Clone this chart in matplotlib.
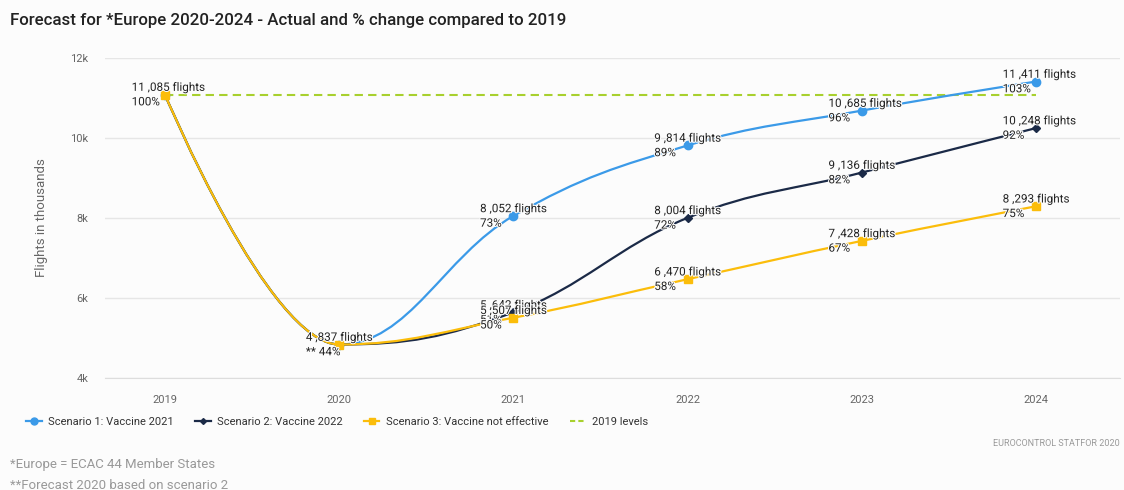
import matplotlib
matplotlib.use("Agg")
import matplotlib.pyplot as plt
import numpy as np
from matplotlib.path import Path
from matplotlib.patches import PathPatch
from matplotlib.lines import Line2D
import matplotlib.patheffects as pe

plt.rcParams['font.family'] = ['Roboto', 'DejaVu Sans']

years = [2019, 2020, 2021, 2022, 2023, 2024]
scenario1 = [11085, 4837, 8052, 9814, 10685, 11411]
scenario2 = [11085, 4837, 5642, 8004, 9136, 10248]
scenario3 = [11085, 4837, 5507, 6470, 7428, 8293]
pct1 = [100, 44, 73, 89, 96, 103]
pct2 = [100, 44, 51, 72, 82, 92]
pct3 = [100, 44, 50, 58, 67, 75]
level_2019 = 11085

names = ['Scenario 1: Vaccine 2021', 'Scenario 2: Vaccine 2022',
         'Scenario 3: Vaccine not effective']
colors = ['#3b9ae8', '#1b2a47', '#fbbd0b']
markers = ['o', 'D', 's']
msizes = [6, 4, 6]
green = '#a8d02e'


def spline_path(xs, ys, smoothing=1.5):
    # highcharts-like spline: cubic bezier through every point
    n = len(xs)
    verts = [(xs[0], ys[0])]
    codes = [Path.MOVETO]
    left = [(xs[0], ys[0])] * n
    right = [(xs[0], ys[0])] * n
    for i in range(n):
        x, y = xs[i], ys[i]
        if i == 0 or i == n - 1:
            left[i] = (x, y)
            right[i] = (x, y)
            continue
        lx, ly = xs[i - 1], ys[i - 1]
        nx, ny = xs[i + 1], ys[i + 1]
        lcx = (smoothing * x + lx) / (smoothing + 1)
        lcy = (smoothing * y + ly) / (smoothing + 1)
        rcx = (smoothing * x + nx) / (smoothing + 1)
        rcy = (smoothing * y + ny) / (smoothing + 1)
        if rcx != lcx:
            corr = (rcy - lcy) * (rcx - x) / (rcx - lcx) + y - rcy
            lcy += corr
            rcy += corr
        if lcy > ly and lcy > y:
            lcy = max(ly, y)
            rcy = 2 * y - lcy
        elif lcy < ly and lcy < y:
            lcy = min(ly, y)
            rcy = 2 * y - lcy
        if rcy > ny and rcy > y:
            rcy = max(ny, y)
            lcy = 2 * y - rcy
        elif rcy < ny and rcy < y:
            rcy = min(ny, y)
            lcy = 2 * y - rcy
        left[i] = (lcx, lcy)
        right[i] = (rcx, rcy)
    for i in range(1, n):
        verts += [right[i - 1], left[i], (xs[i], ys[i])]
        codes += [Path.CURVE4] * 3
    return Path(verts, codes)


fig = plt.figure(figsize=(11.24, 4.9), dpi=100)
fig.patch.set_facecolor('#fcfcfc')
ax = fig.add_axes([105 / 1124, 1 - 378 / 490, 1015 / 1124, 320 / 490])
ax.set_facecolor('#fcfcfc')

x0 = 2019 - 60 / 174.2
x1 = 2024 + 84 / 174.2
ax.set_xlim(x0, x1)
ax.set_ylim(4000, 12000)

ax.plot(years, [level_2019] * len(years), color=green, lw=1.5,
        dashes=(4, 2.5), zorder=2)

series = [scenario1, scenario2, scenario3]
pcts = [pct1, pct2, pct3]
for k in range(3):
    p = spline_path(years, series[k])
    ax.add_patch(PathPatch(p, facecolor='none', edgecolor=colors[k],
                           lw=1.6, zorder=3 + k))
    ax.plot(years, series[k], linestyle='none', marker=markers[k],
            ms=msizes[k], color=colors[k], mec=colors[k], zorder=3 + k)

outline = [pe.withStroke(linewidth=1.5, foreground='#fcfcfc')]


def fmt(v):
    return f"{v // 1000} ,{v % 1000:03d} flights"


for k in range(3):
    for i, yr in enumerate(years):
        if yr == 2019 and k > 0:
            continue
        if yr == 2020 and k != 1:
            continue
        pct = f"** {pcts[k][i]}%" if yr == 2020 else f"{pcts[k][i]}%"
        ax.annotate(fmt(series[k][i]) + "\n" + pct, (yr, series[k][i]),
                    xytext=(-24, 0), textcoords='offset points',
                    ha='left', va='center', fontsize=8.4, color='#222222',
                    linespacing=1.15, zorder=10, path_effects=outline)

ax.set_xticks(years)
ax.set_xticklabels([str(y) for y in years])
ax.set_yticks([4000, 6000, 8000, 10000, 12000])
ax.set_yticklabels(['4k', '6k', '8k', '10k', '12k'])
ax.tick_params(axis='both', length=0, colors='#666666', labelsize=8)
ax.tick_params(axis='x', pad=12)
ax.tick_params(axis='y', pad=12)
ax.grid(axis='y', color='#e6e6e6', lw=1)
ax.set_axisbelow(True)
for s in ['top', 'right', 'left']:
    ax.spines[s].set_visible(False)
ax.spines['bottom'].set_color('#dddddd')
ax.set_ylabel('Flights in thousands', color='#666666', fontsize=9.5,
              labelpad=16)

fig.text(10 / 1124, 1 - 20 / 490,
         'Forecast for *Europe 2020-2024 - Actual and % change compared to 2019',
         fontsize=12.2, color='#222222', fontweight='medium', va='center')

handles = [Line2D([], [], color=colors[k], marker=markers[k], ms=msizes[k] - 1,
                  lw=1.6) for k in range(3)]
handles.append(Line2D([], [], color=green, lw=1.5, dashes=(2.5, 1.5)))
leg = fig.legend(handles, names + ['2019 levels'], loc='center left',
                 bbox_to_anchor=(16 / 1124, 1 - 422 / 490), ncol=4,
                 frameon=False, fontsize=8, handlelength=1.4,
                 handletextpad=0.6, columnspacing=1.9)
for t in leg.get_texts():
    t.set_color('#333333')

fig.text(1120 / 1124, 1 - 443 / 490, 'EUROCONTROL STATFOR 2020',
         fontsize=6.5, color='#999999', ha='right', va='center')
fig.text(10 / 1124, 1 - 464 / 490, '*Europe = ECAC 44 Member States',
         fontsize=9.5, color='#999999', va='center')
fig.text(10 / 1124, 1 - 485 / 490, '**Forecast 2020 based on scenario 2',
         fontsize=9.5, color='#999999', va='center')

fig.savefig('out.png', dpi=100, facecolor=fig.get_facecolor())
